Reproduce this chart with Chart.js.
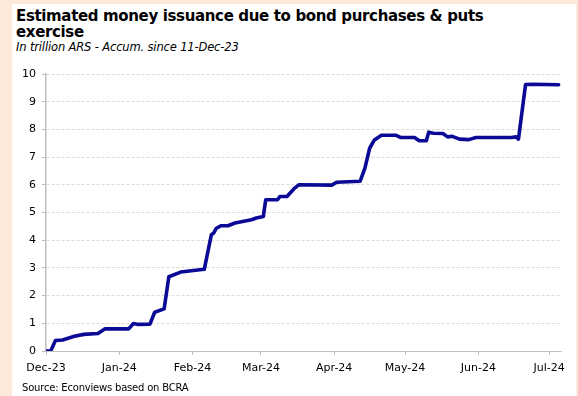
<!DOCTYPE html>
<html>
<head>
<meta charset="utf-8">
<script src="https://cdn.jsdelivr.net/npm/chart.js@4.4.1/dist/chart.umd.min.js"></script>
<style>
  html, body { margin: 0; padding: 0; }
  body { width: 578px; height: 396px; background: #FCE9DA; position: relative; overflow: hidden; font-family: "DejaVu Sans", Verdana, sans-serif; }
  #panel { position: absolute; left: 12px; top: 4px; width: 564px; height: 392px; background: #ffffff; }
  #title { position: absolute; left: 16px; top: 8px; font-size: 15px; line-height: 16px; font-weight: bold; letter-spacing: -0.35px; color: #000; white-space: nowrap; }
  #subtitle { position: absolute; left: 16px; top: 40px; font-size: 11.5px; line-height: 14px; font-style: italic; letter-spacing: -0.15px; color: #000; white-space: nowrap; }
  #source { position: absolute; left: 22px; top: 382px; font-size: 10px; line-height: 12px; letter-spacing: -0.2px; color: #000; white-space: nowrap; }
  #chart { position: absolute; left: 0; top: 0; }
</style>
</head>
<body>
<div id="panel"></div>
<div id="title">Estimated money issuance due to bond purchases &amp; puts<br>exercise</div>
<div id="subtitle">In trillion ARS - Accum. since 11-Dec-23</div>
<canvas id="chart" width="578" height="396"></canvas>
<div id="source">Source: Econviews based on BCRA</div>
<script>
// Accumulated issuance (trillion ARS) by date
const dates = [
  '2023-12-01','2023-12-03','2023-12-05','2023-12-08','2023-12-13','2023-12-17','2023-12-23','2023-12-26',
  '2024-01-05','2024-01-07','2024-01-09','2024-01-14','2024-01-16','2024-01-20','2024-01-22','2024-01-27',
  '2024-02-06','2024-02-09','2024-02-10','2024-02-11','2024-02-13','2024-02-16','2024-02-19','2024-02-26','2024-02-28',
  '2024-03-02','2024-03-03','2024-03-08','2024-03-09','2024-03-12','2024-03-15','2024-03-17','2024-03-31',
  '2024-04-02','2024-04-12','2024-04-14','2024-04-16','2024-04-18','2024-04-21','2024-04-27','2024-04-29',
  '2024-05-05','2024-05-07','2024-05-10','2024-05-11','2024-05-13','2024-05-17','2024-05-19','2024-05-21','2024-05-24','2024-05-28','2024-05-31',
  '2024-06-15','2024-06-17','2024-06-18','2024-06-21','2024-06-24','2024-07-05'
];
const issuance = [
  0, 0, 0.38, 0.40, 0.53, 0.60, 0.63, 0.80,
  0.80, 0.99, 0.96, 0.97, 1.40, 1.52, 2.68, 2.85,
  2.95, 4.20, 4.26, 4.42, 4.52, 4.52, 4.62, 4.74, 4.80,
  4.86, 5.46, 5.46, 5.58, 5.58, 5.86, 6.00, 5.99,
  6.09, 6.13, 6.60, 7.32, 7.62, 7.79, 7.79, 7.71,
  7.71, 7.59, 7.59, 7.90, 7.86, 7.85, 7.73, 7.75, 7.65, 7.63, 7.71,
  7.71, 7.73, 7.65, 9.62, 9.63, 9.61
];
// Month tick positions and labels on the date axis
const monthStarts = ['2023-12-01','2024-01-01','2024-02-01','2024-03-01','2024-04-01','2024-05-01','2024-06-01','2024-07-01'];
const monthLabels = ['Dec-23','Jan-24','Feb-24','Mar-24','Apr-24','May-24','Jun-24','Jul-24'];
const yTicks = [0,1,2,3,4,5,6,7,8,9,10];
const axisEnd = '2024-07-06';

const origin = Date.UTC(2023, 11, 1);
function dayNum(s) {
  const [y, m, d] = s.split('-').map(Number);
  return Math.round((Date.UTC(y, m - 1, d) - origin) / 86400000);
}
const points = dates.map((d, i) => ({ x: dayNum(d), y: issuance[i] }));
const tickDays = monthStarts.map(dayNum);
const labelByDay = {};
tickDays.forEach((d, i) => { labelByDay[d] = monthLabels[i]; });

const tickFont = { family: '"DejaVu Sans", Verdana, sans-serif', size: 11 };

new Chart(document.getElementById('chart'), {
  type: 'line',
  data: {
    datasets: [{
      data: points,
      borderColor: '#0A0A96',
      borderWidth: 3.6,
      pointRadius: 0,
      tension: 0,
      fill: false,
      borderCapStyle: 'round',
      borderJoinStyle: 'round'
    }]
  },
  options: {
    responsive: false,
    animation: false,
    layout: { padding: { left: 0, right: 17, top: 74, bottom: 0 } },
    plugins: { legend: { display: false }, tooltip: { enabled: false } },
    scales: {
      x: {
        type: 'linear',
        min: 0,
        max: dayNum(axisEnd),
        afterBuildTicks: (scale) => { scale.ticks = tickDays.map(v => ({ value: v })); },
        afterFit: (scale) => { scale.height = 45; },
        ticks: {
          autoSkip: false,
          maxRotation: 0,
          color: '#000',
          font: tickFont,
          padding: 7,
          callback: (v) => labelByDay[v] || ''
        },
        grid: { drawOnChartArea: false, drawTicks: true, tickLength: 4, tickColor: '#BFBFBF' },
        border: { display: true, color: '#BFBFBF', width: 1 }
      },
      y: {
        min: 0,
        max: 10,
        afterBuildTicks: (scale) => { scale.ticks = yTicks.map(v => ({ value: v })); },
        afterFit: (scale) => { scale.width = 46; },
        ticks: { color: '#000', font: tickFont, padding: 6 },
        grid: { color: '#D9D9D9', lineWidth: 1, drawTicks: true, tickLength: 4, tickColor: '#BFBFBF', tickBorderDash: [] },
        border: { display: true, color: '#BFBFBF', width: 1.5, dash: [3, 2] }
      }
    }
  }
});
</script>
</body>
</html>
